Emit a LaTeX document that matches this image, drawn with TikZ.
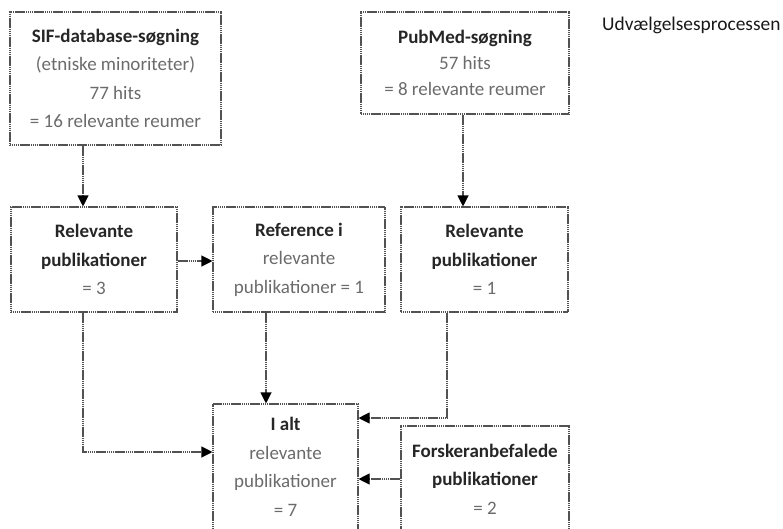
\documentclass[tikz,border=0pt]{standalone}
\usepackage{fontspec}
\setmainfont{Carlito}
\usetikzlibrary{arrows.meta}
\begin{document}
\begin{tikzpicture}[x=1pt,y=-1pt,
  box/.style={draw=black!68, line width=1.1pt, dash pattern=on 1.4pt off 0.5pt,
    inner sep=0pt, align=center, font=\fontsize{19}{28.5}\selectfont, text=black!58},
  conn/.style={draw=black!68, line width=1.1pt, dash pattern=on 1.4pt off 0.5pt,
    -{Triangle[length=11pt,width=11pt,color=black]}},
  hd/.style={font=\bfseries}
]
\clip (0,0) rectangle (783,528);
\fill[white] (0,0) rectangle (783,528);

\node[anchor=base west, font=\fontsize{19.4}{24}\selectfont, text=black!90, inner sep=0pt] (title) at (602,30) {Udvælgelsesprocessen};

\node[box, minimum width=211pt, minimum height=133pt] (sif) at (115.5,78.5)
  {\textcolor{black!85}{\bfseries SIF-database-søgning}\\(etniske minoriteter)\\77 hits\\= 16 relevante reumer};
\node[box, minimum width=208pt, minimum height=102pt, font=\fontsize{19}{26}\selectfont] (pub) at (465,63)
  {\textcolor{black!85}{\bfseries PubMed-søgning}\\57 hits\\= 8 relevante reumer};

\node[box, minimum width=166pt, minimum height=105pt] (rel3) at (94,259.5)
  {\textcolor{black!85}{\bfseries Relevante}\\\textcolor{black!85}{\bfseries publikationer}\\= 3};
\node[box, minimum width=172pt, minimum height=105pt] (ref) at (299,259.5)
  {\textcolor{black!85}{\bfseries Reference i}\\relevante\\publikationer = 1};
\node[box, minimum width=167pt, minimum height=105pt] (rel1) at (484.5,259.5)
  {\textcolor{black!85}{\bfseries Relevante}\\\textcolor{black!85}{\bfseries publikationer}\\= 1};

\node[box, minimum width=145pt, minimum height=126pt] (ialt) at (285.5,467)
  {\textcolor{black!85}{\bfseries I alt}\\relevante\\publikationer\\= 7};
\node[box, minimum width=168pt, minimum height=106pt] (forsk) at (485,479)
  {\textcolor{black!85}{\bfseries Forskeranbefalede}\\\textcolor{black!85}{\bfseries publikationer}\\= 2};

\coordinate (c1) at (83,0);
\coordinate (c2) at (463,0);
\coordinate (c3) at (266,0);
\coordinate (c4) at (447,0);
\coordinate (r1) at (0,261);
\coordinate (r2) at (0,452);
\coordinate (r3) at (0,418);

\draw[conn] (sif.south -| c1) -- (rel3.north -| c1);
\draw[conn] (pub.south -| c2) -- (rel1.north -| c2);
\draw[conn] (rel3.east |- r1) -- (ref.west |- r1);
\draw[conn] (ref.south -| c3) -- (ialt.north -| c3);
\draw[conn] (rel3.south -| c1) |- (ialt.west |- r2);
\draw[conn] (rel1.south -| c4) |- (ialt.east |- r3);
\draw[conn] (forsk.west) -- (ialt.east |- forsk.west);
\end{tikzpicture}
\end{document}
